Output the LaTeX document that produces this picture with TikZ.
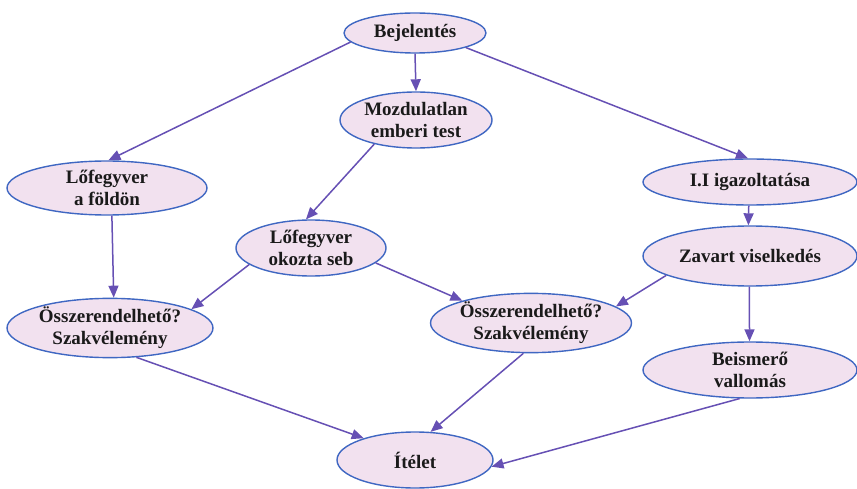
\documentclass[tikz,border=0pt]{standalone}
\usepackage{fontspec}
\setmainfont{Liberation Serif}
\usetikzlibrary{shapes.geometric,arrows.meta}
\definecolor{ellfill}{HTML}{F2E1EF}
\definecolor{elldraw}{HTML}{3F67C2}
\definecolor{arrcol}{HTML}{6650B4}
\definecolor{txtcol}{HTML}{1A1A1A}
\tikzset{
  ell/.style={ellipse, draw=elldraw, fill=ellfill, line width=1.4pt, inner sep=0pt,
    align=center, text=txtcol, font=\fontsize{19}{22}\selectfont\bfseries},
  conn/.style={draw=arrcol, line width=1.5pt, -{Triangle[length=12pt,width=10pt]}}
}
\begin{document}
\begin{tikzpicture}[x=1pt,y=-1pt]
\useasboundingbox (0,0) rectangle (857,489);
\node[ell, minimum width=142pt, minimum height=40pt] (bej) at (415,33) {Bejelentés};
\node[ell, minimum width=152pt, minimum height=56pt] (moz) at (416,120) {Mozdulatlan\\emberi test};
\node[ell, minimum width=200pt, minimum height=54pt] (lfo) at (107,188) {Lőfegyver\\a földön};
\node[ell, minimum width=214pt, minimum height=46pt] (iig) at (750,182) {I.I igazoltatása};
\node[ell, minimum width=150pt, minimum height=56pt] (seb) at (311,248) {Lőfegyver\\okozta seb};
\node[ell, minimum width=214pt, minimum height=60pt] (zav) at (750,256) {Zavart viselkedés};
\node[ell, minimum width=206pt, minimum height=58pt] (osl) at (110,328) {Összerendelhető?\\Szakvélemény};
\node[ell, minimum width=172pt, minimum height=56pt] (osm) at (531,323) {Összerendelhető?\\Szakvélemény};
\node[ell, minimum width=214pt, minimum height=56pt] (bei) at (750,370) {Beismerő\\vallomás};
\node[ell, minimum width=156pt, minimum height=56pt] (ite) at (415,460) {Ítélet};

\draw[conn] (bej.188) -- (lfo.87);
\draw[conn] (bej.south) -- (moz.north);
\draw[conn] (bej.-16) -- (iig.95);
\draw[conn] (moz.210) -- (seb.100);
\draw[conn] (lfo.-80) -- (osl.83);
\draw[conn] (seb.195) -- (osl.13);
\draw[conn] (seb.-13) -- (osm.162);
\draw[conn] (zav.193) -- (osm.11);
\draw[conn] (iig.-93) -- (zav.93);
\draw[conn] (zav.-91) -- (bei.91);
\draw[conn] (osl.-48) -- (ite.157);
\draw[conn] (osm.-104) -- (ite.61);
\draw[conn] (bei.-110) -- (ite.-5);
\end{tikzpicture}
\end{document}
